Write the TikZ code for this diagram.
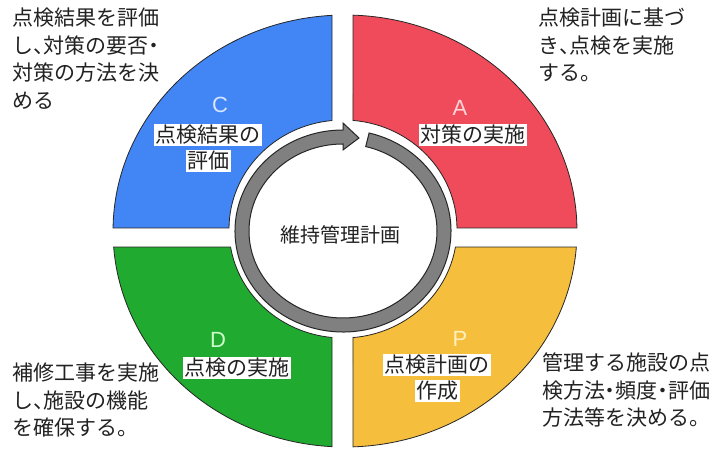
\documentclass[tikz,border=0pt]{standalone}
\usepackage{fontspec}
\newfontfamily\jp{Noto Sans CJK JP}
\newfontfamily\lat{Liberation Sans}
\newcommand{\hw}[1]{{\addfontfeatures{RawFeature=+halt}#1}}
\usetikzlibrary{calc}
\definecolor{qblue}{HTML}{4285F4}
\definecolor{qred}{HTML}{F04B5A}
\definecolor{qgreen}{HTML}{20AA30}
\definecolor{qyellow}{HTML}{F5BE3C}
\definecolor{ringgray}{HTML}{808080}
\definecolor{txt}{HTML}{222222}
\begin{document}
\begin{tikzpicture}[x=1pt,y=1pt,
  quad/.style={draw=black!85, line width=0.8pt},
  ringst/.style={fill=ringgray, draw=black!85, line width=1pt},
  note/.style={font=\jp\fontsize{21}{27.5}\selectfont, align=left, anchor=north west, inner sep=0pt, text=txt},
  lab/.style={font=\jp\fontsize{21}{24}\selectfont, fill=white, inner sep=1.5pt, text=txt},
  letter/.style={font=\lat\fontsize{22}{24}\selectfont, inner sep=0pt}]
\useasboundingbox (0,0) rectangle (724,450);
\fill[white] (0,0) rectangle (724,450);
% quadrants
\path[quad, fill=qblue] ($(345,219)+(93.21:232pt and 216pt)$)
  arc[start angle=93.21, end angle=179.2, x radius=232pt, y radius=216pt]
  -- ($(343,221)+(179.47:114pt and 109pt)$)
  arc[start angle=179.47, end angle=95.54, x radius=114pt, y radius=109pt] -- cycle;
\path[quad, fill=qred] ($(345,219)+(0.796:232pt and 216pt)$)
  arc[start angle=0.796, end angle=88.02, x radius=232pt, y radius=216pt]
  -- ($(343,221)+(84.97:114pt and 109pt)$)
  arc[start angle=84.97, end angle=0.526, x radius=114pt, y radius=109pt] -- cycle;
\path[quad, fill=qyellow] ($(345,219)+(-88.02:232pt and 216pt)$)
  arc[start angle=-88.02, end angle=-4.25, x radius=232pt, y radius=216pt]
  -- ($(343,221)+(-9.51:114pt and 109pt)$)
  arc[start angle=-9.51, end angle=-84.97, x radius=114pt, y radius=109pt] -- cycle;
\path[quad, fill=qgreen] ($(345,219)+(184.25:232pt and 216pt)$)
  arc[start angle=184.25, end angle=266.79, x radius=232pt, y radius=216pt]
  -- ($(343,221)+(264.46:114pt and 109pt)$)
  arc[start angle=264.46, end angle=189.51, x radius=114pt, y radius=109pt] -- cycle;
% circular arrow
\path[ringst] ($(343,219)+(76:108pt and 101pt)$)
  arc[start angle=76, end angle=-270, x radius=108pt, y radius=101pt]
  -- (343,327) -- (359,312) -- (343,300)
  -- ($(343,219)+(90:94pt and 87pt)$)
  arc[start angle=-270, end angle=76, x radius=94pt, y radius=87pt] -- cycle;
\node[font=\jp\fontsize{20}{24}\selectfont, text=txt] (center) at (340,215) {維持管理計画};
% quadrant labels
\node[letter, text={rgb,255:red,214;green,230;blue,255}] (lc) at (220,345) {C};
\node[lab] (c1) at (208,315) {点検結果の};
\node[lab] (c2) at (208,289) {評価};
\node[letter, text={rgb,255:red,255;green,214;blue,218}] (la) at (460,342) {A};
\node[lab] (a1) at (473,315) {対策の実施};
\node[letter, text={rgb,255:red,255;green,240;blue,190}] (lp) at (460,111) {P};
\node[lab] (p1) at (437,85) {点検計画の};
\node[lab] (p2) at (437,59) {作成};
\node[letter, text={rgb,255:red,205;green,255;blue,205}] (ld) at (218,110) {D};
\node[lab] (d1) at (237,82) {点検の実施};
% corner notes
\node[note] (ntl) at (12,442) {点検結果を評価\\し\hw{、}対策の要否\hw{・}\\対策の方法を決\\める};
\node[note] (ntr) at (538,442) {点検計画に基づ\\き\hw{、}点検を実施\\する\hw{。}};
\node[note] (nbl) at (12,87) {補修工事を実施\\し\hw{、}施設の機能\\を確保する\hw{。}};
\node[note] (nbr) at (542,97) {管理する施設の点\\検方法\hw{・}頻度\hw{・}評価\\方法等を決める\hw{。}};
\end{tikzpicture}
\end{document}
